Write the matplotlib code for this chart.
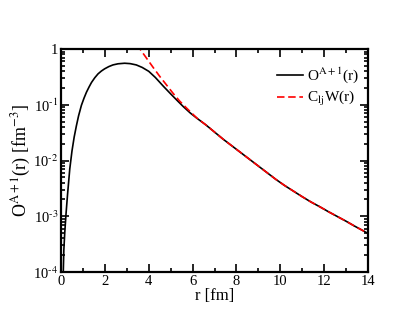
import matplotlib
matplotlib.use('Agg')
import matplotlib.pyplot as plt
import numpy as np
from matplotlib.ticker import LogLocator, MultipleLocator, NullFormatter

# overlap function (r in fm, log10 of value)
r_overlap = [0.08, 0.1, 0.13, 0.17, 0.23, 0.3, 0.4, 0.5, 0.6, 0.7, 0.8, 0.93, 1.05, 1.16, 1.28, 1.39,
             1.54, 1.69, 1.84, 1.99, 2.18, 2.37, 2.6, 2.9, 3.15, 3.43, 3.7, 4.0, 4.3, 4.66, 5.0, 5.3,
             5.58, 5.9, 6.2, 6.6, 7.0, 7.4, 7.8, 8.2, 8.6, 9.0, 9.4, 9.8, 10.2, 10.6, 11.0, 11.4,
             11.8, 12.2, 12.6, 13.0, 13.4, 13.8, 14.0]
log_overlap = [-4.6, -4.05, -3.6, -3.3, -2.95, -2.6, -2.15, -1.83, -1.58, -1.38, -1.2, -1.01, -0.88,
               -0.775, -0.68, -0.6, -0.515, -0.445, -0.395, -0.355, -0.315, -0.285, -0.265, -0.255,
               -0.262, -0.285, -0.33, -0.40, -0.51, -0.665, -0.805, -0.925, -1.035, -1.15, -1.243,
               -1.36, -1.49, -1.62, -1.74, -1.86, -1.98, -2.10, -2.22, -2.34, -2.45, -2.55, -2.65,
               -2.745, -2.83, -2.92, -3.005, -3.09, -3.18, -3.265, -3.31]

# asymptotic Whittaker tail C_lj W(r)
r_whit = [3.45, 3.6, 3.9, 4.2, 4.5, 4.8, 5.1, 5.4, 5.7, 6.0, 6.2, 6.6, 7.0, 7.4, 7.8, 8.2, 8.6, 9.0,
          9.4, 9.8, 10.2, 10.6, 11.0, 11.4, 11.8, 12.2, 12.6, 13.0, 13.4, 13.8, 14.0]
log_whit = [0.085, 0.0, -0.165, -0.33, -0.49, -0.64, -0.79, -0.93, -1.05, -1.165, -1.24, -1.36, -1.49,
            -1.62, -1.74, -1.86, -1.98, -2.10, -2.22, -2.34, -2.45, -2.55, -2.65, -2.745, -2.83,
            -2.92, -3.005, -3.09, -3.18, -3.265, -3.31]

y_ticks = [1e-4, 1e-3, 1e-2, 1e-1, 1]
y_ticklabels = ['10$^{\u2010 4}$', '10$^{\u2010 3}$', '10$^{\u2010 2}$', '10$^{\u2010 1}$', '1']

plt.rcParams['font.family'] = ['Liberation Serif', 'DejaVu Serif']
plt.rcParams['mathtext.fontset'] = 'stix'

fig = plt.figure(figsize=(4.15, 3.21), dpi=100)
ax = fig.add_axes([0.147, 0.1526, 0.740, 0.6947])

ax.plot(r_overlap, 10 ** np.array(log_overlap), color='black', lw=1.2, label=r'O$^{\mathrm{A+1}}$(r)')
ax.plot(r_whit, 10 ** np.array(log_whit), color='red', lw=1.2, ls=(0, (4.5, 2.2)),
        label=r'C$_{\mathrm{lj}}$W(r)')

ax.set_yscale('log')
ax.set_xlim(0, 14)
ax.set_ylim(1e-4, 1)
ax.xaxis.set_major_locator(MultipleLocator(2))
ax.xaxis.set_minor_locator(MultipleLocator(1))
ax.yaxis.set_minor_locator(LogLocator(base=10, subs=np.arange(2, 10), numticks=10))
ax.yaxis.set_minor_formatter(NullFormatter())
ax.set_yticks(y_ticks)
ax.set_yticklabels(y_ticklabels)

ax.tick_params(which='both', direction='in', top=True, right=True, labelsize=10.5, width=1.2)
ax.tick_params(which='major', length=6, pad=2)
ax.tick_params(which='minor', length=3)
for s in ax.spines.values():
    s.set_linewidth(1.6)

ax.set_xlabel('r [fm]', fontsize=12, labelpad=0)
ax.set_ylabel(r'O$^{\mathrm{A+1}}$(r) [fm$^{-3}$]', fontsize=13, labelpad=0)

ax.legend(loc='upper left', frameon=False, fontsize=11, handlelength=1.7, handletextpad=0.25,
          labelspacing=0.25, borderpad=0, borderaxespad=0, bbox_to_anchor=(0.703, 0.925))

fig.savefig('out.png', dpi=100)
